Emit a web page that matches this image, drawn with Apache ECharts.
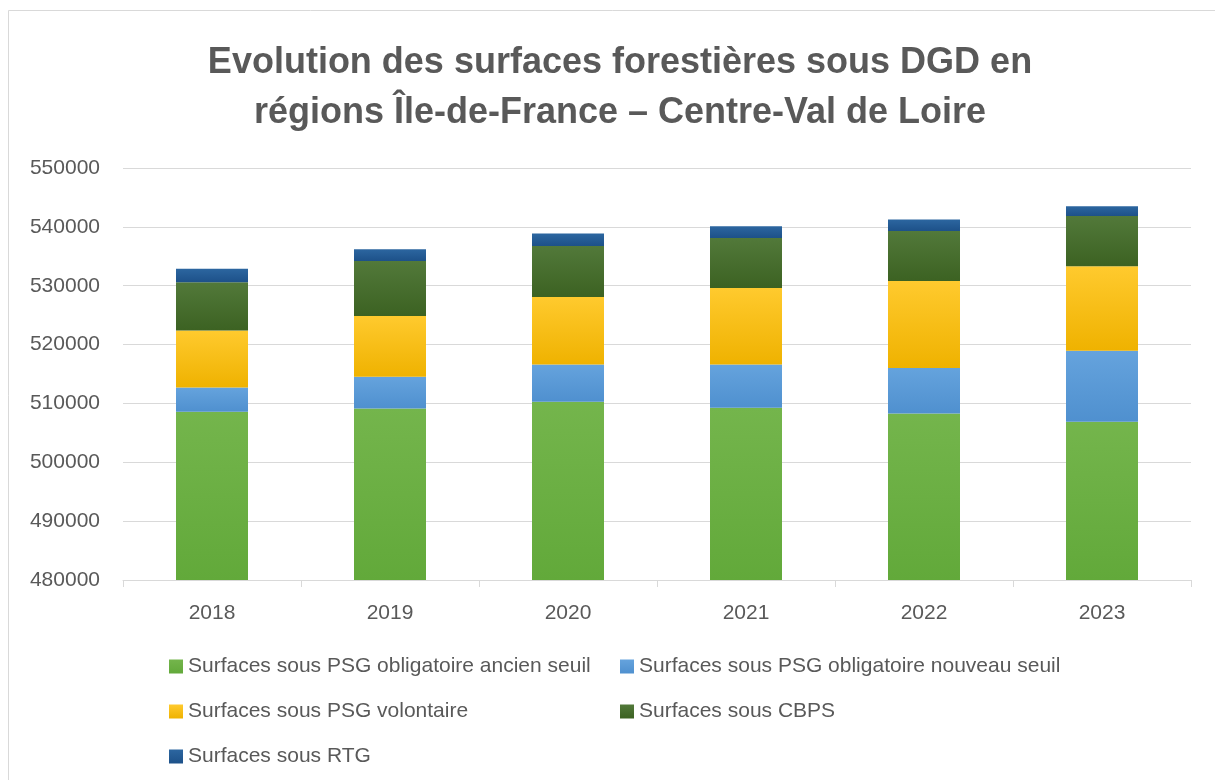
<!DOCTYPE html>
<html>
<head>
<meta charset="utf-8">
<title>Evolution des surfaces forestières sous DGD</title>
<script src="https://cdn.jsdelivr.net/npm/echarts@6/dist/echarts.min.js"></script>
<style>
  html, body { margin: 0; padding: 0; background: #fff; }
  #chart { width: 1215px; height: 780px; }
</style>
</head>
<body>
<div id="chart"></div>
<script>
// données (hectares)
var years = ['2018', '2019', '2020', '2021', '2022', '2023'];
var psgAncien = [508600, 509150, 510270, 509250, 508300, 506880];
var psgNouveau = [4100, 5370, 6350, 7370, 7740, 12050];
var psgVolontaire = [9700, 10350, 11480, 13010, 14780, 14380];
var cbps = [8200, 9340, 8660, 8490, 8480, 8540];
var rtg = [2300, 1990, 2100, 1980, 1940, 1650];

var yTicks = [480000, 490000, 500000, 510000, 520000, 530000, 540000, 550000];

var names = [
  'Surfaces sous PSG obligatoire ancien seuil',
  'Surfaces sous PSG obligatoire nouveau seuil',
  'Surfaces sous PSG volontaire',
  'Surfaces sous CBPS',
  'Surfaces sous RTG'
];

var FONT = '"Liberation Sans", Arial, sans-serif';
var GREY = '#595959';

function grad(top, bottom) {
  return new echarts.graphic.LinearGradient(0, 0, 0, 1, [
    {offset: 0, color: top},
    {offset: 1, color: bottom}
  ]);
}

function serie(name, data, top, bottom) {
  return {
    name: name,
    type: 'bar',
    stack: 'total',
    barWidth: 72,
    data: data,
    itemStyle: {
      color: grad(top, bottom)
    }
  };
}

var chart = echarts.init(document.getElementById('chart'));

chart.setOption({
  backgroundColor: '#fff',
  animation: false,
  color: ['#6cb042', '#5b9bd5', '#ffc000', '#44692a', '#225a92'],
  graphic: [{
    type: 'rect',
    shape: {x: 8.5, y: 10.5, width: 1300, height: 900},
    style: {fill: 'none', stroke: '#d9d9d9', lineWidth: 1},
    silent: true
  }],
  title: {
    text: 'Evolution des surfaces forestières sous DGD en\nrégions Île-de-France – Centre-Val de Loire',
    left: 615,
    top: 33,
    textAlign: 'center',
    textStyle: {
      fontFamily: FONT,
      fontSize: 36,
      fontWeight: 'bold',
      color: GREY,
      lineHeight: 50
    }
  },
  grid: {
    left: 123,
    right: 24,
    top: 168,
    bottom: 200
  },
  legend: [{
    orient: 'vertical',
    left: 169,
    top: 656,
    padding: 0,
    itemWidth: 14,
    itemHeight: 14,
    itemGap: 24,
    icon: 'rect',
    data: [names[0], names[2], names[4]],
    textStyle: {fontFamily: FONT, fontSize: 21, color: GREY}
  }, {
    orient: 'vertical',
    left: 620,
    top: 656,
    padding: 0,
    itemWidth: 14,
    itemHeight: 14,
    itemGap: 24,
    icon: 'rect',
    data: [names[1], names[3]],
    textStyle: {fontFamily: FONT, fontSize: 21, color: GREY}
  }],
  xAxis: {
    type: 'category',
    data: years,
    axisLine: {lineStyle: {color: '#d9d9d9', width: 1}},
    axisTick: {show: true, length: 7, lineStyle: {color: '#d9d9d9'}},
    axisLabel: {fontFamily: FONT, fontSize: 21, color: GREY, margin: 23}
  },
  yAxis: {
    type: 'value',
    min: yTicks[0],
    max: yTicks[yTicks.length - 1],
    interval: yTicks[1] - yTicks[0],
    axisLine: {show: false},
    axisTick: {show: false},
    splitLine: {lineStyle: {color: '#d9d9d9', width: 1}},
    axisLabel: {
      fontFamily: FONT, fontSize: 21, color: GREY, margin: 23,
      formatter: function (v) { return String(v); }
    }
  },
  series: [
    serie(names[0], psgAncien, '#74b54c', '#62a93a'),
    serie(names[1], psgNouveau, '#65a3dd', '#4f90cf'),
    serie(names[2], psgVolontaire, '#ffca2e', '#efb200'),
    serie(names[3], cbps, '#52793a', '#3c6222'),
    serie(names[4], rtg, '#2c66a0', '#1d5189')
  ]
});
</script>
</body>
</html>
